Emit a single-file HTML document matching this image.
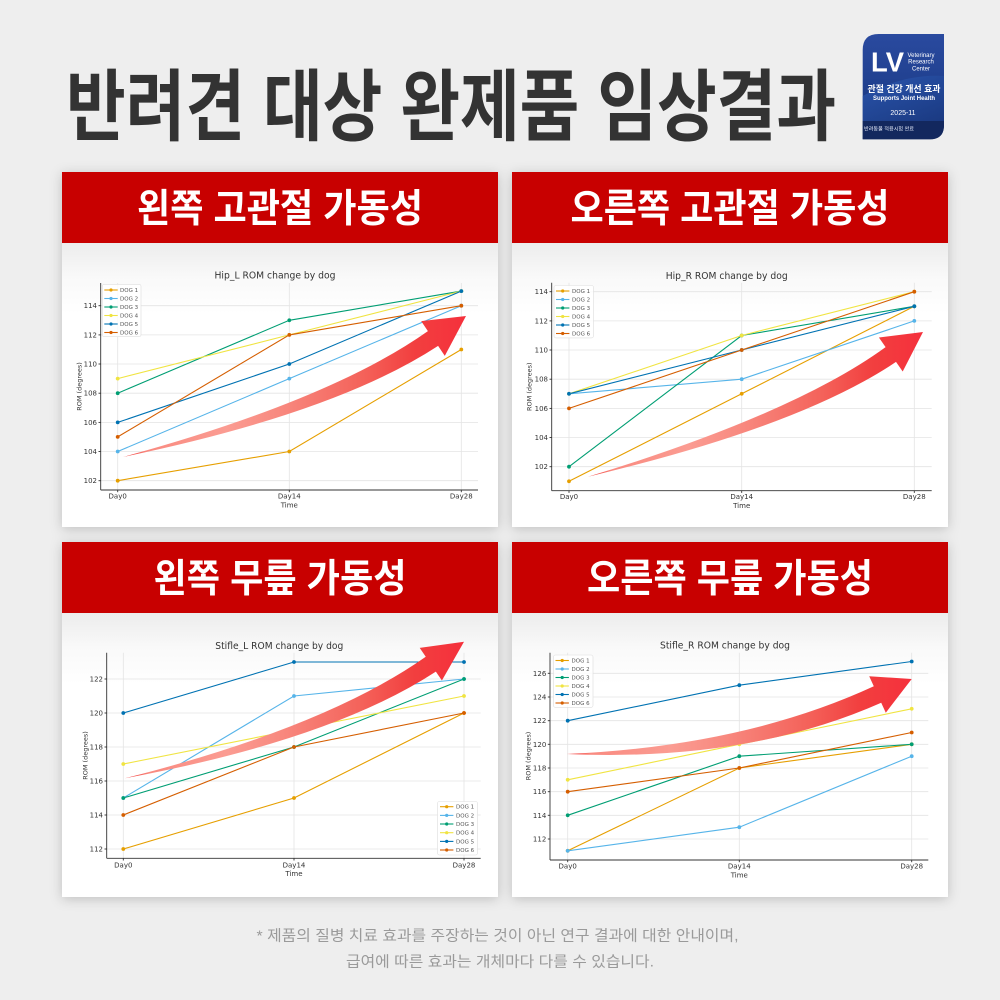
<!DOCTYPE html>
<html><head><meta charset="utf-8"><style>
html,body{margin:0;padding:0;background:#eeeeee;}
svg{display:block;}
</style></head><body>
<svg width="1000" height="1000" viewBox="0 0 1000 1000" xmlns="http://www.w3.org/2000/svg">
<defs>
<filter id="sh" x="-10%" y="-10%" width="120%" height="120%">
<feDropShadow dx="0" dy="2" stdDeviation="6" flood-color="#000" flood-opacity="0.2"/>
</filter>
<linearGradient id="pg" x1="0" y1="0" x2="0" y2="1">
<stop offset="0" stop-color="#ececec"/><stop offset="0.12" stop-color="#f9f9f9"/><stop offset="0.25" stop-color="#ffffff"/><stop offset="1" stop-color="#ffffff"/>
</linearGradient>
<linearGradient id="ag" x1="0" y1="0" x2="1" y2="0">
<stop offset="0" stop-color="#f02020"/><stop offset="0.07" stop-color="#f98a80"/><stop offset="0.3" stop-color="#fb9c92"/><stop offset="0.45" stop-color="#f88a80"/><stop offset="0.7" stop-color="#f4625a"/><stop offset="0.85" stop-color="#f23f3f"/><stop offset="1" stop-color="#f5303c"/>
</linearGradient>
<linearGradient id="bg1" x1="0" y1="0" x2="0" y2="1">
<stop offset="0" stop-color="#2a4a9f"/><stop offset="0.5" stop-color="#20408f"/><stop offset="1" stop-color="#142c66"/>
</linearGradient>
<linearGradient id="bw" x1="0" y1="0" x2="1" y2="1">
<stop offset="0" stop-color="#2d5ab4"/><stop offset="1" stop-color="#1b3c86"/>
</linearGradient>
</defs>

<rect x="0" y="0" width="1000" height="1000" fill="#eeeeee"/>

<!-- Title -->
<text x="66" y="134" font-family="'Liberation Sans','Noto Sans CJK KR',sans-serif" font-weight="bold" font-size="78" fill="#333333" textLength="770" lengthAdjust="spacingAndGlyphs">반려견 대상 완제품 임상결과</text>

<!-- Badge -->
<path d="M862.7,139.3 L862.7,50 Q862.7,34 878.7,34 L944,34 L944,125 Q944,139.3 930,139.3 Z" fill="url(#bg1)"/>
<path d="M862.7,96 C885,84 912,74 944,76 L944,121 L862.7,121 Z" fill="url(#bw)" opacity="0.75"/>
<path d="M862.7,121 L944,121 L944,125 Q944,139.3 930,139.3 L862.7,139.3 Z" fill="#13285e"/>
<text x="871" y="71.7" font-family="'Liberation Sans',sans-serif" font-weight="bold" font-size="28" fill="#ffffff" textLength="33" lengthAdjust="spacingAndGlyphs">LV</text>
<g font-family="'Liberation Sans',sans-serif" font-size="6" fill="#ffffff" text-anchor="middle">
<text x="921" y="57">Veterinary</text>
<text x="921" y="63.7">Research</text>
<text x="921" y="70.3">Center</text>
</g>
<text x="904" y="92" text-anchor="middle" font-family="'Liberation Sans','Noto Sans CJK KR',sans-serif" font-weight="bold" font-size="9" fill="#ffffff" textLength="73" lengthAdjust="spacingAndGlyphs">관절 건강 개선 효과</text>
<text x="904" y="100" text-anchor="middle" font-family="'Liberation Sans',sans-serif" font-weight="bold" font-size="6" fill="#ffffff" textLength="62" lengthAdjust="spacingAndGlyphs">Supports Joint Health</text>
<text x="903" y="115" text-anchor="middle" font-family="'Liberation Sans',sans-serif" font-size="7" fill="#ffffff">2025-11</text>
<text x="864" y="130.5" font-family="'Liberation Sans','Noto Sans CJK KR',sans-serif" font-size="5" fill="#dfe6f5" textLength="50" lengthAdjust="spacingAndGlyphs">반려동물 적용시험 완료</text>

<!-- Panels -->
<g filter="url(#sh)">
<rect x="62" y="172" width="436" height="355" fill="#ffffff"/>
<rect x="512" y="172" width="436" height="355" fill="#ffffff"/>
<rect x="62" y="542" width="436" height="355" fill="#ffffff"/>
<rect x="512" y="542" width="436" height="355" fill="#ffffff"/>
</g>
<rect x="62" y="243" width="436" height="284" fill="url(#pg)"/>
<rect x="512" y="243" width="436" height="284" fill="url(#pg)"/>
<rect x="62" y="613" width="436" height="284" fill="url(#pg)"/>
<rect x="512" y="613" width="436" height="284" fill="url(#pg)"/>
<rect x="62" y="172" width="436" height="71" fill="#c80000"/>
<rect x="512" y="172" width="436" height="71" fill="#c80000"/>
<rect x="62" y="542" width="436" height="71" fill="#c80000"/>
<rect x="512" y="542" width="436" height="71" fill="#c80000"/>

<g font-family="'Liberation Sans','Noto Sans CJK KR',sans-serif" font-weight="bold" font-size="39" fill="#ffffff" text-anchor="middle">
<text x="280" y="222" textLength="286" lengthAdjust="spacingAndGlyphs">왼쪽 고관절 가동성</text>
<text x="730" y="222" textLength="319" lengthAdjust="spacingAndGlyphs">오른쪽 고관절 가동성</text>
<text x="280" y="592" textLength="253" lengthAdjust="spacingAndGlyphs">왼쪽 무릎 가동성</text>
<text x="730" y="592" textLength="286" lengthAdjust="spacingAndGlyphs">오른쪽 무릎 가동성</text>
</g>

<!-- ============ CHART 1: Hip_L ============ -->
<g font-family="'DejaVu Sans','Liberation Sans',sans-serif" fill="#333">
<g stroke="#e4e4e4" stroke-width="0.8">
<line x1="100.7" y1="480.7" x2="478" y2="480.7"/><line x1="100.7" y1="451.5" x2="478" y2="451.5"/><line x1="100.7" y1="422.4" x2="478" y2="422.4"/><line x1="100.7" y1="393.2" x2="478" y2="393.2"/><line x1="100.7" y1="364" x2="478" y2="364"/><line x1="100.7" y1="334.9" x2="478" y2="334.9"/><line x1="100.7" y1="305.7" x2="478" y2="305.7"/>
<line x1="117.7" y1="283" x2="117.7" y2="490"/><line x1="289.3" y1="283" x2="289.3" y2="490"/><line x1="461.3" y1="283" x2="461.3" y2="490"/>
</g>
<g stroke="#333" stroke-width="0.9">
<line x1="100.7" y1="283" x2="100.7" y2="490"/><line x1="100.7" y1="490" x2="478" y2="490"/>
<line x1="98.5" y1="480.7" x2="100.7" y2="480.7"/><line x1="98.5" y1="451.5" x2="100.7" y2="451.5"/><line x1="98.5" y1="422.4" x2="100.7" y2="422.4"/><line x1="98.5" y1="393.2" x2="100.7" y2="393.2"/><line x1="98.5" y1="364" x2="100.7" y2="364"/><line x1="98.5" y1="334.9" x2="100.7" y2="334.9"/><line x1="98.5" y1="305.7" x2="100.7" y2="305.7"/>
<line x1="117.7" y1="490" x2="117.7" y2="492.2"/><line x1="289.3" y1="490" x2="289.3" y2="492.2"/><line x1="461.3" y1="490" x2="461.3" y2="492.2"/>
</g>
<g font-size="7" text-anchor="end">
<text x="97" y="483.2">102</text><text x="97" y="454">104</text><text x="97" y="424.9">106</text><text x="97" y="395.7">108</text><text x="97" y="366.5">110</text><text x="97" y="337.4">112</text><text x="97" y="308.2">114</text>
</g>
<g font-size="7" text-anchor="middle">
<text x="117.7" y="498.5">Day0</text><text x="289.3" y="498.5">Day14</text><text x="461.3" y="498.5">Day28</text>
<text x="289.3" y="507.5">Time</text>
</g>
<text x="275" y="278.5" font-size="9.5" text-anchor="middle" textLength="121" lengthAdjust="spacingAndGlyphs">Hip_L ROM change by dog</text>
<text transform="translate(81.5,386.5) rotate(-90)" font-size="6.5" text-anchor="middle">ROM (degrees)</text>
<g fill="none" stroke-width="1.1">
<polyline stroke="#E69F00" points="117.7,480.7 289.3,451.5 461.3,349.5"/>
<polyline stroke="#56B4E9" points="117.7,451.5 289.3,378.6 461.3,305.7"/>
<polyline stroke="#009E73" points="117.7,393.2 289.3,320.3 461.3,291.1"/>
<polyline stroke="#F0E442" points="117.7,378.6 289.3,334.9 461.3,291.1"/>
<polyline stroke="#0072B2" points="117.7,422.4 289.3,364 461.3,291.1"/>
<polyline stroke="#D55E00" points="117.7,436.9 289.3,334.9 461.3,305.7"/>
</g>
<g>
<g fill="#E69F00"><circle cx="117.7" cy="480.7" r="1.9"/><circle cx="289.3" cy="451.5" r="1.9"/><circle cx="461.3" cy="349.5" r="1.9"/></g>
<g fill="#56B4E9"><circle cx="117.7" cy="451.5" r="1.9"/><circle cx="289.3" cy="378.6" r="1.9"/><circle cx="461.3" cy="305.7" r="1.9"/></g>
<g fill="#009E73"><circle cx="117.7" cy="393.2" r="1.9"/><circle cx="289.3" cy="320.3" r="1.9"/><circle cx="461.3" cy="291.1" r="1.9"/></g>
<g fill="#F0E442"><circle cx="117.7" cy="378.6" r="1.9"/><circle cx="289.3" cy="334.9" r="1.9"/><circle cx="461.3" cy="291.1" r="1.9"/></g>
<g fill="#0072B2"><circle cx="117.7" cy="422.4" r="1.9"/><circle cx="289.3" cy="364" r="1.9"/><circle cx="461.3" cy="291.1" r="1.9"/></g>
<g fill="#D55E00"><circle cx="117.7" cy="436.9" r="1.9"/><circle cx="289.3" cy="334.9" r="1.9"/><circle cx="461.3" cy="305.7" r="1.9"/></g>
</g>
<rect x="102.3" y="284.3" width="38.7" height="52.4" rx="2" fill="#ffffff" fill-opacity="0.85" stroke="#dddddd" stroke-width="0.6"/>
<g stroke-width="1.1">
<line x1="104.3" y1="290" x2="117.7" y2="290" stroke="#E69F00"/><circle cx="111" cy="290" r="1.6" fill="#E69F00"/>
<line x1="104.3" y1="298.5" x2="117.7" y2="298.5" stroke="#56B4E9"/><circle cx="111" cy="298.5" r="1.6" fill="#56B4E9"/>
<line x1="104.3" y1="307" x2="117.7" y2="307" stroke="#009E73"/><circle cx="111" cy="307" r="1.6" fill="#009E73"/>
<line x1="104.3" y1="315.5" x2="117.7" y2="315.5" stroke="#F0E442"/><circle cx="111" cy="315.5" r="1.6" fill="#F0E442"/>
<line x1="104.3" y1="324" x2="117.7" y2="324" stroke="#0072B2"/><circle cx="111" cy="324" r="1.6" fill="#0072B2"/>
<line x1="104.3" y1="332.5" x2="117.7" y2="332.5" stroke="#D55E00"/><circle cx="111" cy="332.5" r="1.6" fill="#D55E00"/>
</g>
<g font-size="5.5" fill="#555">
<text x="120" y="292">DOG 1</text><text x="120" y="300.5">DOG 2</text><text x="120" y="309">DOG 3</text><text x="120" y="317.5">DOG 4</text><text x="120" y="326">DOG 5</text><text x="120" y="334.5">DOG 6</text>
</g>
<path d="M123,457 Q330.4,400 427.9,331.1 L421.2,321.1 L466,316 L444.8,355.9 L438.1,345.9 Q335.6,413 123,457 Z" fill="url(#ag)"/>
</g>

<!-- ============ CHART 2: Hip_R ============ -->
<g font-family="'DejaVu Sans','Liberation Sans',sans-serif" fill="#333">
<g stroke="#e4e4e4" stroke-width="0.8">
<line x1="551.7" y1="466.7" x2="931.7" y2="466.7"/><line x1="551.7" y1="437.5" x2="931.7" y2="437.5"/><line x1="551.7" y1="408.4" x2="931.7" y2="408.4"/><line x1="551.7" y1="379.2" x2="931.7" y2="379.2"/><line x1="551.7" y1="350" x2="931.7" y2="350"/><line x1="551.7" y1="320.9" x2="931.7" y2="320.9"/><line x1="551.7" y1="291.7" x2="931.7" y2="291.7"/>
<line x1="569" y1="282.7" x2="569" y2="490.7"/><line x1="741.7" y1="282.7" x2="741.7" y2="490.7"/><line x1="914.3" y1="282.7" x2="914.3" y2="490.7"/>
</g>
<g stroke="#333" stroke-width="0.9">
<line x1="551.7" y1="282.7" x2="551.7" y2="490.7"/><line x1="551.7" y1="490.7" x2="931.7" y2="490.7"/>
<line x1="549.5" y1="466.7" x2="551.7" y2="466.7"/><line x1="549.5" y1="437.5" x2="551.7" y2="437.5"/><line x1="549.5" y1="408.4" x2="551.7" y2="408.4"/><line x1="549.5" y1="379.2" x2="551.7" y2="379.2"/><line x1="549.5" y1="350" x2="551.7" y2="350"/><line x1="549.5" y1="320.9" x2="551.7" y2="320.9"/><line x1="549.5" y1="291.7" x2="551.7" y2="291.7"/>
<line x1="569" y1="490.7" x2="569" y2="492.9"/><line x1="741.7" y1="490.7" x2="741.7" y2="492.9"/><line x1="914.3" y1="490.7" x2="914.3" y2="492.9"/>
</g>
<g font-size="7" text-anchor="end">
<text x="548" y="469.2">102</text><text x="548" y="440">104</text><text x="548" y="410.9">106</text><text x="548" y="381.7">108</text><text x="548" y="352.5">110</text><text x="548" y="323.4">112</text><text x="548" y="294.2">114</text>
</g>
<g font-size="7" text-anchor="middle">
<text x="569" y="499">Day0</text><text x="741.7" y="499">Day14</text><text x="914.3" y="499">Day28</text>
<text x="741.7" y="508">Time</text>
</g>
<text x="726.7" y="279" font-size="9.5" text-anchor="middle" textLength="122" lengthAdjust="spacingAndGlyphs">Hip_R ROM change by dog</text>
<text transform="translate(531.5,386.7) rotate(-90)" font-size="6.5" text-anchor="middle">ROM (degrees)</text>
<g fill="none" stroke-width="1.1">
<polyline stroke="#E69F00" points="569,481.3 741.7,393.8 914.3,306.3"/>
<polyline stroke="#56B4E9" points="569,393.8 741.7,379.2 914.3,320.9"/>
<polyline stroke="#009E73" points="569,466.7 741.7,335.5 914.3,306.3"/>
<polyline stroke="#F0E442" points="569,393.8 741.7,335.5 914.3,291.7"/>
<polyline stroke="#0072B2" points="569,393.8 741.7,350 914.3,306.3"/>
<polyline stroke="#D55E00" points="569,408.4 741.7,350 914.3,291.7"/>
</g>
<g>
<g fill="#E69F00"><circle cx="569" cy="481.3" r="1.9"/><circle cx="741.7" cy="393.8" r="1.9"/><circle cx="914.3" cy="306.3" r="1.9"/></g>
<g fill="#56B4E9"><circle cx="569" cy="393.8" r="1.9"/><circle cx="741.7" cy="379.2" r="1.9"/><circle cx="914.3" cy="320.9" r="1.9"/></g>
<g fill="#009E73"><circle cx="569" cy="466.7" r="1.9"/><circle cx="741.7" cy="335.5" r="1.9"/><circle cx="914.3" cy="306.3" r="1.9"/></g>
<g fill="#F0E442"><circle cx="569" cy="393.8" r="1.9"/><circle cx="741.7" cy="335.5" r="1.9"/><circle cx="914.3" cy="291.7" r="1.9"/></g>
<g fill="#0072B2"><circle cx="569" cy="393.8" r="1.9"/><circle cx="741.7" cy="350" r="1.9"/><circle cx="914.3" cy="306.3" r="1.9"/></g>
<g fill="#D55E00"><circle cx="569" cy="408.4" r="1.9"/><circle cx="741.7" cy="350" r="1.9"/><circle cx="914.3" cy="291.7" r="1.9"/></g>
</g>
<rect x="554" y="285.5" width="39.5" height="52.4" rx="2" fill="#ffffff" fill-opacity="0.85" stroke="#dddddd" stroke-width="0.6"/>
<g stroke-width="1.1">
<line x1="556" y1="291" x2="569.4" y2="291" stroke="#E69F00"/><circle cx="562.7" cy="291" r="1.6" fill="#E69F00"/>
<line x1="556" y1="299.5" x2="569.4" y2="299.5" stroke="#56B4E9"/><circle cx="562.7" cy="299.5" r="1.6" fill="#56B4E9"/>
<line x1="556" y1="308" x2="569.4" y2="308" stroke="#009E73"/><circle cx="562.7" cy="308" r="1.6" fill="#009E73"/>
<line x1="556" y1="316.5" x2="569.4" y2="316.5" stroke="#F0E442"/><circle cx="562.7" cy="316.5" r="1.6" fill="#F0E442"/>
<line x1="556" y1="325" x2="569.4" y2="325" stroke="#0072B2"/><circle cx="562.7" cy="325" r="1.6" fill="#0072B2"/>
<line x1="556" y1="333.5" x2="569.4" y2="333.5" stroke="#D55E00"/><circle cx="562.7" cy="333.5" r="1.6" fill="#D55E00"/>
</g>
<g font-size="5.5" fill="#555">
<text x="572" y="293">DOG 1</text><text x="572" y="301.5">DOG 2</text><text x="572" y="310">DOG 3</text><text x="572" y="318.5">DOG 4</text><text x="572" y="327">DOG 5</text><text x="572" y="335.5">DOG 6</text>
</g>
<path d="M588,476.7 Q793.6,414 885.6,347.1 L878.9,337.5 L923,332 L902.7,371.5 L896,361.9 Q799.4,426.8 588,476.7 Z" fill="url(#ag)"/>
</g>

<!-- ============ CHART 3: Stifle_L ============ -->
<g font-family="'DejaVu Sans','Liberation Sans',sans-serif" fill="#333">
<g stroke="#e4e4e4" stroke-width="0.8">
<line x1="106.7" y1="849" x2="480.7" y2="849"/><line x1="106.7" y1="815" x2="480.7" y2="815"/><line x1="106.7" y1="781" x2="480.7" y2="781"/><line x1="106.7" y1="747" x2="480.7" y2="747"/><line x1="106.7" y1="713" x2="480.7" y2="713"/><line x1="106.7" y1="679" x2="480.7" y2="679"/>
<line x1="123.3" y1="652.7" x2="123.3" y2="858.3"/><line x1="294" y1="652.7" x2="294" y2="858.3"/><line x1="464" y1="652.7" x2="464" y2="858.3"/>
</g>
<g stroke="#333" stroke-width="0.9">
<line x1="106.7" y1="652.7" x2="106.7" y2="858.3"/><line x1="106.7" y1="858.3" x2="480.7" y2="858.3"/>
<line x1="104.5" y1="849" x2="106.7" y2="849"/><line x1="104.5" y1="815" x2="106.7" y2="815"/><line x1="104.5" y1="781" x2="106.7" y2="781"/><line x1="104.5" y1="747" x2="106.7" y2="747"/><line x1="104.5" y1="713" x2="106.7" y2="713"/><line x1="104.5" y1="679" x2="106.7" y2="679"/>
<line x1="123.3" y1="858.3" x2="123.3" y2="860.5"/><line x1="294" y1="858.3" x2="294" y2="860.5"/><line x1="464" y1="858.3" x2="464" y2="860.5"/>
</g>
<g font-size="7" text-anchor="end">
<text x="103" y="851.5">112</text><text x="103" y="817.5">114</text><text x="103" y="783.5">116</text><text x="103" y="749.5">118</text><text x="103" y="715.5">120</text><text x="103" y="681.5">122</text>
</g>
<g font-size="7" text-anchor="middle">
<text x="123.3" y="867.5">Day0</text><text x="294" y="867.5">Day14</text><text x="464" y="867.5">Day28</text>
<text x="294" y="876">Time</text>
</g>
<text x="279.3" y="649" font-size="9.5" text-anchor="middle" textLength="128" lengthAdjust="spacingAndGlyphs">Stifle_L ROM change by dog</text>
<text transform="translate(87.5,755.5) rotate(-90)" font-size="6.5" text-anchor="middle">ROM (degrees)</text>
<g fill="none" stroke-width="1.1">
<polyline stroke="#E69F00" points="123.3,849 294,798 464,713"/>
<polyline stroke="#56B4E9" points="123.3,798 294,696 464,679"/>
<polyline stroke="#009E73" points="123.3,798 294,747 464,679"/>
<polyline stroke="#F0E442" points="123.3,764 294,730 464,696"/>
<polyline stroke="#0072B2" points="123.3,713 294,662 464,662"/>
<polyline stroke="#D55E00" points="123.3,815 294,747 464,713"/>
</g>
<g>
<g fill="#E69F00"><circle cx="123.3" cy="849" r="1.9"/><circle cx="294" cy="798" r="1.9"/><circle cx="464" cy="713" r="1.9"/></g>
<g fill="#56B4E9"><circle cx="123.3" cy="798" r="1.9"/><circle cx="294" cy="696" r="1.9"/><circle cx="464" cy="679" r="1.9"/></g>
<g fill="#009E73"><circle cx="123.3" cy="798" r="1.9"/><circle cx="294" cy="747" r="1.9"/><circle cx="464" cy="679" r="1.9"/></g>
<g fill="#F0E442"><circle cx="123.3" cy="764" r="1.9"/><circle cx="294" cy="730" r="1.9"/><circle cx="464" cy="696" r="1.9"/></g>
<g fill="#0072B2"><circle cx="123.3" cy="713" r="1.9"/><circle cx="294" cy="662" r="1.9"/><circle cx="464" cy="662" r="1.9"/></g>
<g fill="#D55E00"><circle cx="123.3" cy="815" r="1.9"/><circle cx="294" cy="747" r="1.9"/><circle cx="464" cy="713" r="1.9"/></g>
</g>
<rect x="437.5" y="801.5" width="40" height="53.5" rx="2" fill="#ffffff" fill-opacity="0.85" stroke="#dddddd" stroke-width="0.6"/>
<g stroke-width="1.1">
<line x1="440" y1="806.7" x2="453.4" y2="806.7" stroke="#E69F00"/><circle cx="446.7" cy="806.7" r="1.6" fill="#E69F00"/>
<line x1="440" y1="815.4" x2="453.4" y2="815.4" stroke="#56B4E9"/><circle cx="446.7" cy="815.4" r="1.6" fill="#56B4E9"/>
<line x1="440" y1="824" x2="453.4" y2="824" stroke="#009E73"/><circle cx="446.7" cy="824" r="1.6" fill="#009E73"/>
<line x1="440" y1="832.7" x2="453.4" y2="832.7" stroke="#F0E442"/><circle cx="446.7" cy="832.7" r="1.6" fill="#F0E442"/>
<line x1="440" y1="841.4" x2="453.4" y2="841.4" stroke="#0072B2"/><circle cx="446.7" cy="841.4" r="1.6" fill="#0072B2"/>
<line x1="440" y1="850" x2="453.4" y2="850" stroke="#D55E00"/><circle cx="446.7" cy="850" r="1.6" fill="#D55E00"/>
</g>
<g font-size="5.5" fill="#555">
<text x="456" y="808.7">DOG 1</text><text x="456" y="817.4">DOG 2</text><text x="456" y="826">DOG 3</text><text x="456" y="834.7">DOG 4</text><text x="456" y="843.4">DOG 5</text><text x="456" y="852">DOG 6</text>
</g>
<path d="M125,778.3 Q326,727 425.75,656.75 L419.7,647.85 L464,641.7 L441.9,680.55 L435.85,671.65 Q331.2,740 125,778.3 Z" fill="url(#ag)"/>
</g>

<!-- ============ CHART 4: Stifle_R ============ -->
<g font-family="'DejaVu Sans','Liberation Sans',sans-serif" fill="#333">
<g stroke="#e4e4e4" stroke-width="0.8">
<line x1="550" y1="839" x2="928.3" y2="839"/><line x1="550" y1="815.3" x2="928.3" y2="815.3"/><line x1="550" y1="791.7" x2="928.3" y2="791.7"/><line x1="550" y1="768" x2="928.3" y2="768"/><line x1="550" y1="744.3" x2="928.3" y2="744.3"/><line x1="550" y1="720.7" x2="928.3" y2="720.7"/><line x1="550" y1="697" x2="928.3" y2="697"/><line x1="550" y1="673.3" x2="928.3" y2="673.3"/>
<line x1="567.7" y1="652.7" x2="567.7" y2="860"/><line x1="739.3" y1="652.7" x2="739.3" y2="860"/><line x1="911.7" y1="652.7" x2="911.7" y2="860"/>
</g>
<g stroke="#333" stroke-width="0.9">
<line x1="550" y1="652.7" x2="550" y2="860"/><line x1="550" y1="860" x2="928.3" y2="860"/>
<line x1="547.8" y1="839" x2="550" y2="839"/><line x1="547.8" y1="815.3" x2="550" y2="815.3"/><line x1="547.8" y1="791.7" x2="550" y2="791.7"/><line x1="547.8" y1="768" x2="550" y2="768"/><line x1="547.8" y1="744.3" x2="550" y2="744.3"/><line x1="547.8" y1="720.7" x2="550" y2="720.7"/><line x1="547.8" y1="697" x2="550" y2="697"/><line x1="547.8" y1="673.3" x2="550" y2="673.3"/>
<line x1="567.7" y1="860" x2="567.7" y2="862.2"/><line x1="739.3" y1="860" x2="739.3" y2="862.2"/><line x1="911.7" y1="860" x2="911.7" y2="862.2"/>
</g>
<g font-size="7" text-anchor="end">
<text x="546.3" y="841.5">112</text><text x="546.3" y="817.8">114</text><text x="546.3" y="794.2">116</text><text x="546.3" y="770.5">118</text><text x="546.3" y="746.8">120</text><text x="546.3" y="723.2">122</text><text x="546.3" y="699.5">124</text><text x="546.3" y="675.8">126</text>
</g>
<g font-size="7" text-anchor="middle">
<text x="567.7" y="868.5">Day0</text><text x="739.3" y="868.5">Day14</text><text x="911.7" y="868.5">Day28</text>
<text x="739.3" y="877.5">Time</text>
</g>
<text x="725" y="648.5" font-size="9.5" text-anchor="middle" textLength="130" lengthAdjust="spacingAndGlyphs">Stifle_R ROM change by dog</text>
<text transform="translate(530.5,756) rotate(-90)" font-size="6.5" text-anchor="middle">ROM (degrees)</text>
<g fill="none" stroke-width="1.1">
<polyline stroke="#E69F00" points="567.7,850.8 739.3,768 911.7,744.3"/>
<polyline stroke="#56B4E9" points="567.7,850.8 739.3,827.2 911.7,756.2"/>
<polyline stroke="#009E73" points="567.7,815.3 739.3,756.2 911.7,744.3"/>
<polyline stroke="#F0E442" points="567.7,779.8 739.3,744.3 911.7,708.8"/>
<polyline stroke="#0072B2" points="567.7,720.7 739.3,685.2 911.7,661.5"/>
<polyline stroke="#D55E00" points="567.7,791.7 739.3,768 911.7,732.5"/>
</g>
<g>
<g fill="#E69F00"><circle cx="567.7" cy="850.8" r="1.9"/><circle cx="739.3" cy="768" r="1.9"/><circle cx="911.7" cy="744.3" r="1.9"/></g>
<g fill="#56B4E9"><circle cx="567.7" cy="850.8" r="1.9"/><circle cx="739.3" cy="827.2" r="1.9"/><circle cx="911.7" cy="756.2" r="1.9"/></g>
<g fill="#009E73"><circle cx="567.7" cy="815.3" r="1.9"/><circle cx="739.3" cy="756.2" r="1.9"/><circle cx="911.7" cy="744.3" r="1.9"/></g>
<g fill="#F0E442"><circle cx="567.7" cy="779.8" r="1.9"/><circle cx="739.3" cy="744.3" r="1.9"/><circle cx="911.7" cy="708.8" r="1.9"/></g>
<g fill="#0072B2"><circle cx="567.7" cy="720.7" r="1.9"/><circle cx="739.3" cy="685.2" r="1.9"/><circle cx="911.7" cy="661.5" r="1.9"/></g>
<g fill="#D55E00"><circle cx="567.7" cy="791.7" r="1.9"/><circle cx="739.3" cy="768" r="1.9"/><circle cx="911.7" cy="732.5" r="1.9"/></g>
</g>
<rect x="553.5" y="655" width="39.5" height="52.4" rx="2" fill="#ffffff" fill-opacity="0.85" stroke="#dddddd" stroke-width="0.6"/>
<g stroke-width="1.1">
<line x1="555.5" y1="660.5" x2="568.9" y2="660.5" stroke="#E69F00"/><circle cx="562.2" cy="660.5" r="1.6" fill="#E69F00"/>
<line x1="555.5" y1="669" x2="568.9" y2="669" stroke="#56B4E9"/><circle cx="562.2" cy="669" r="1.6" fill="#56B4E9"/>
<line x1="555.5" y1="677.5" x2="568.9" y2="677.5" stroke="#009E73"/><circle cx="562.2" cy="677.5" r="1.6" fill="#009E73"/>
<line x1="555.5" y1="686" x2="568.9" y2="686" stroke="#F0E442"/><circle cx="562.2" cy="686" r="1.6" fill="#F0E442"/>
<line x1="555.5" y1="694.5" x2="568.9" y2="694.5" stroke="#0072B2"/><circle cx="562.2" cy="694.5" r="1.6" fill="#0072B2"/>
<line x1="555.5" y1="703" x2="568.9" y2="703" stroke="#D55E00"/><circle cx="562.2" cy="703" r="1.6" fill="#D55E00"/>
</g>
<g font-size="5.5" fill="#555">
<text x="571.5" y="662.5">DOG 1</text><text x="571.5" y="671">DOG 2</text><text x="571.5" y="679.5">DOG 3</text><text x="571.5" y="688">DOG 4</text><text x="571.5" y="696.5">DOG 5</text><text x="571.5" y="705">DOG 6</text>
</g>
<path d="M566.7,754 Q744.6,746 873.8,686.3 L869.2,676.3 L911.7,679 L885.8,712.7 L881.2,702.7 Q747.4,762 566.7,754 Z" fill="url(#ag)"/>
</g>

<!-- Footnote -->
<g font-family="'Liberation Sans','Noto Sans CJK KR',sans-serif" font-size="15" fill="#9a9a9a" text-anchor="middle">
<text x="497.5" y="940.5" textLength="482" lengthAdjust="spacingAndGlyphs">* 제품의 질병 치료 효과를 주장하는 것이 아닌 연구 결과에 대한 안내이며,</text>
<text x="500" y="966.5" textLength="308" lengthAdjust="spacingAndGlyphs">급여에 따른 효과는 개체마다 다를 수 있습니다.</text>
</g>
</svg>
</body></html>
